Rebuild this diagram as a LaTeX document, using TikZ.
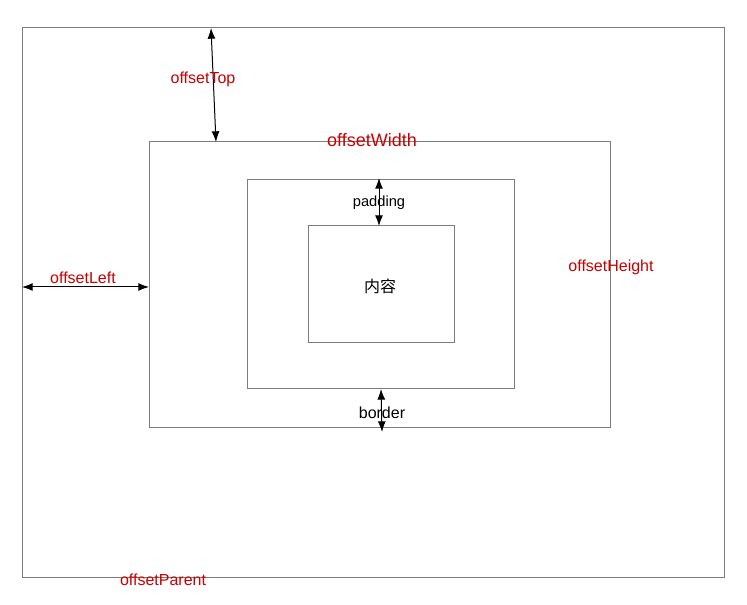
\documentclass[tikz,border=0pt]{standalone}
\usepackage{fontspec}
\setmainfont{Liberation Sans}
\newfontfamily\cjk{Noto Sans CJK SC}
\usetikzlibrary{arrows.meta}
\definecolor{lbl}{RGB}{200,0,0}
\definecolor{boxgray}{RGB}{125,125,125}
\tikzset{
  box/.style={draw=boxgray, line width=0.75pt},
  dim/.style={draw=black, line width=0.75pt, {Latex[length=8pt,width=6pt]}-{Latex[length=8pt,width=6pt]}},
  redlbl/.style={text=lbl, inner sep=0pt, font=\fontsize{12pt}{14pt}\selectfont},
  blklbl/.style={text=black, inner sep=0pt, font=\fontsize{11pt}{13pt}\selectfont},
}
\begin{document}
\begin{tikzpicture}[x=0.75pt,y=-0.75pt]
\useasboundingbox (0,0) rectangle (747,605);
% boxes
\draw[box] (22,28) rectangle (724,578);
\draw[box] (149,142) rectangle (610,428);
\draw[box] (247,180) rectangle (514,389);
\draw[box] (308,226) rectangle (454,343);
% arrow endpoints
\coordinate (topA) at (211,28);
\coordinate (topB) at (216,142);
\coordinate (leftA) at (22,287);
\coordinate (leftB) at (149,287);
\coordinate (padA) at (379,178);
\coordinate (padB) at (379,226);
\coordinate (borA) at (381,389);
\coordinate (borB) at (382,432);
\draw[dim] (topA) -- (topB);
\draw[dim] (leftA) -- (leftB);
\draw[dim] (padA) -- (padB);
\draw[dim] (borA) -- (borB);
% labels
\node[redlbl] (lTop) at (203,79) {offsetTop};
\node[redlbl, font=\fontsize{13.5pt}{15pt}\selectfont] (lWidth) at (372,140) {offsetWidth};
\node[redlbl] (lLeft) at (83,278) {offsetLeft};
\node[redlbl] (lHeight) at (611,267) {offsetHeight};
\node[redlbl] (lParent) at (163,580) {offsetParent};
\node[blklbl] (lPad) at (379,203) {padding};
\node[blklbl, font=\fontsize{12pt}{14pt}\selectfont] (lBor) at (382,413) {border};
\node[blklbl, font=\cjk\fontsize{12pt}{14pt}\selectfont] (lContent) at (380,286) {内容};
\end{tikzpicture}
\end{document}
